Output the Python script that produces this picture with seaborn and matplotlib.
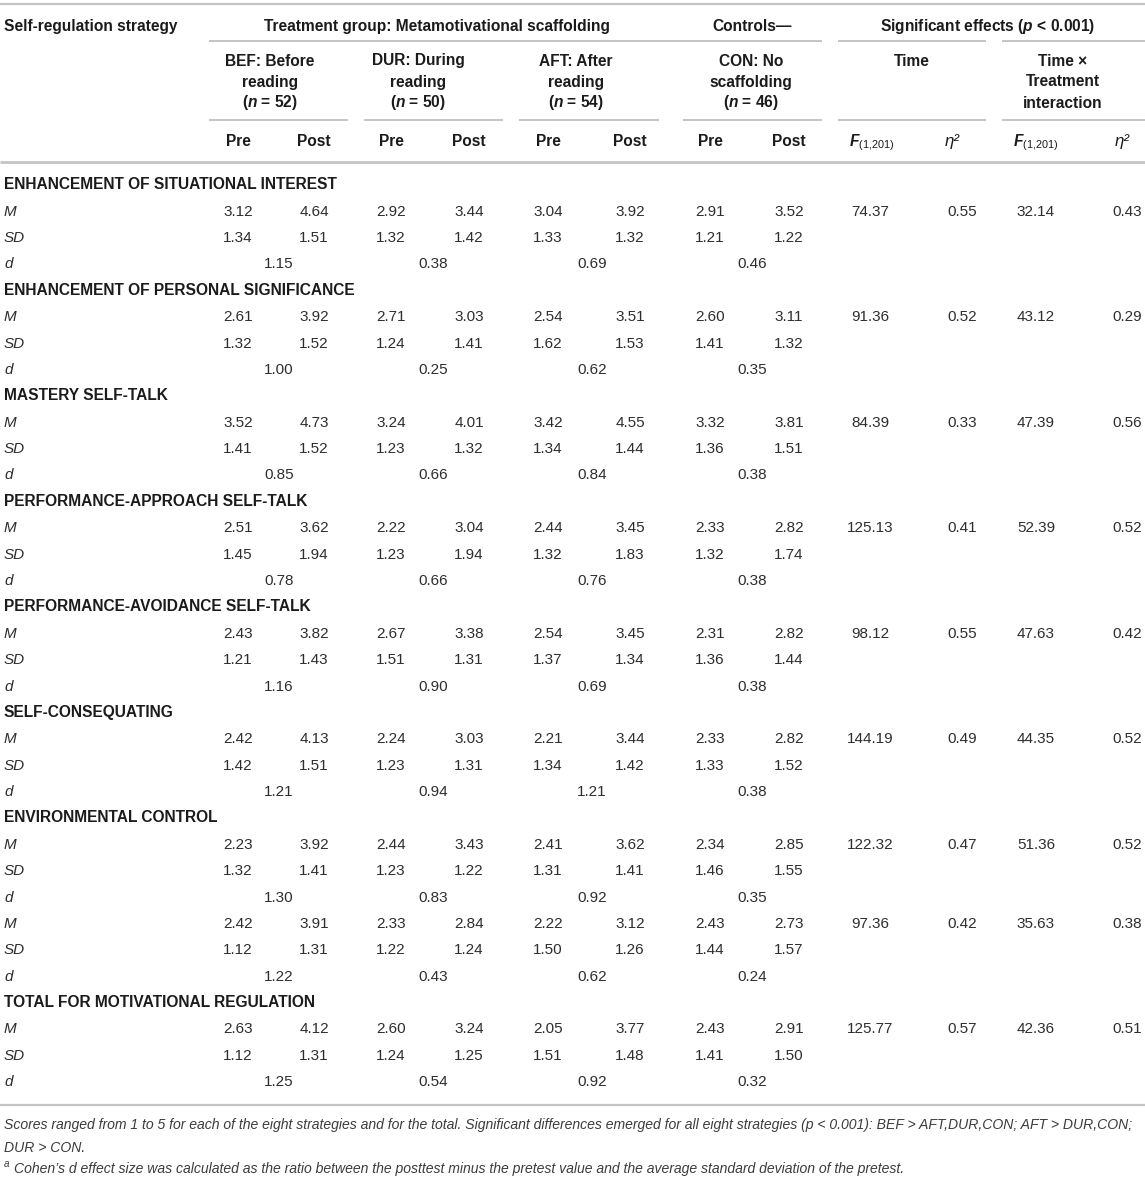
import matplotlib
matplotlib.use("Agg")
import matplotlib.pyplot as plt
import seaborn as sns

# ---------------- data ----------------
strategies = [
    "ENHANCEMENT OF SITUATIONAL INTEREST",
    "ENHANCEMENT OF PERSONAL SIGNIFICANCE",
    "MASTERY SELF-TALK",
    "PERFORMANCE-APPROACH SELF-TALK",
    "PERFORMANCE-AVOIDANCE SELF-TALK",
    "SELF-CONSEQUATING",
    "ENVIRONMENTAL CONTROL",
    "",
    "TOTAL FOR MOTIVATIONAL REGULATION",
]
# order: BEF pre, BEF post, DUR pre, DUR post, AFT pre, AFT post, CON pre, CON post
M_vals = [
    [3.12, 4.64, 2.92, 3.44, 3.04, 3.92, 2.91, 3.52],
    [2.61, 3.92, 2.71, 3.03, 2.54, 3.51, 2.60, 3.11],
    [3.52, 4.73, 3.24, 4.01, 3.42, 4.55, 3.32, 3.81],
    [2.51, 3.62, 2.22, 3.04, 2.44, 3.45, 2.33, 2.82],
    [2.43, 3.82, 2.67, 3.38, 2.54, 3.45, 2.31, 2.82],
    [2.42, 4.13, 2.24, 3.03, 2.21, 3.44, 2.33, 2.82],
    [2.23, 3.92, 2.44, 3.43, 2.41, 3.62, 2.34, 2.85],
    [2.42, 3.91, 2.33, 2.84, 2.22, 3.12, 2.43, 2.73],
    [2.63, 4.12, 2.60, 3.24, 2.05, 3.77, 2.43, 2.91],
]
SD_vals = [
    [1.34, 1.51, 1.32, 1.42, 1.33, 1.32, 1.21, 1.22],
    [1.32, 1.52, 1.24, 1.41, 1.62, 1.53, 1.41, 1.32],
    [1.41, 1.52, 1.23, 1.32, 1.34, 1.44, 1.36, 1.51],
    [1.45, 1.94, 1.23, 1.94, 1.32, 1.83, 1.32, 1.74],
    [1.21, 1.43, 1.51, 1.31, 1.37, 1.34, 1.36, 1.44],
    [1.42, 1.51, 1.23, 1.31, 1.34, 1.42, 1.33, 1.52],
    [1.32, 1.41, 1.23, 1.22, 1.31, 1.41, 1.46, 1.55],
    [1.12, 1.31, 1.22, 1.24, 1.50, 1.26, 1.44, 1.57],
    [1.12, 1.31, 1.24, 1.25, 1.51, 1.48, 1.41, 1.50],
]
d_vals = [
    [1.15, 0.38, 0.69, 0.46],
    [1.00, 0.25, 0.62, 0.35],
    [0.85, 0.66, 0.84, 0.38],
    [0.78, 0.66, 0.76, 0.38],
    [1.16, 0.90, 0.69, 0.38],
    [1.21, 0.94, 1.21, 0.38],
    [1.30, 0.83, 0.92, 0.35],
    [1.22, 0.43, 0.62, 0.24],
    [1.25, 0.54, 0.92, 0.32],
]
F_time = [74.37, 91.36, 84.39, 125.13, 98.12, 144.19, 122.32, 97.36, 125.77]
eta_time = [0.55, 0.52, 0.33, 0.41, 0.55, 0.49, 0.47, 0.42, 0.57]
F_int = [32.14, 43.12, 47.39, 52.39, 47.63, 44.35, 51.36, 35.63, 42.36]
eta_int = [0.43, 0.29, 0.56, 0.52, 0.42, 0.52, 0.52, 0.38, 0.51]

group_headers = [
    ["BEF: Before", "reading", r"($\mathit{n}$ = 52)"],
    ["DUR: During", "reading", r"($\mathit{n}$ = 50)"],
    ["AFT: After", "reading", r"($\mathit{n}$ = 54)"],
    ["CON: No", "scaffolding", r"($\mathit{n}$ = 46)"],
]
effect_headers = [["Time"], ["Time \u00d7", "Treatment", "interaction"]]
top_headers = ["Self-regulation strategy",
               "Treatment group: Metamotivational scaffolding",
               "Controls\u2014",
               r"Significant effects ($\mathit{p}$ < 0.001)"]
sub_headers = ["Pre", "Post"]
stat_headers = [r"$\mathit{F}_{\mathrm{(1{,}201)}}$", "\u03b7\u00b2",
                r"$\mathit{F}_{\mathrm{(1{,}201)}}$", "\u03b7\u00b2"]
row_labels = ["M", "SD", "d"]
footnote_lines = [
    "Scores ranged from 1 to 5 for each of the eight strategies and for the total. "
    "Significant differences emerged for all eight strategies (p < 0.001): "
    "BEF > AFT,DUR,CON; AFT > DUR,CON;",
    "DUR > CON.",
    "Cohen\u2019s d effect size was calculated as the ratio between the posttest "
    "minus the pretest value and the average standard deviation of the pretest.",
]

# ---------------- style ----------------
sns.set_theme(style="white")
FONT = "Liberation Sans"
plt.rcParams["font.family"] = [FONT, "DejaVu Sans"]
plt.rcParams["mathtext.fontset"] = "custom"
plt.rcParams["mathtext.it"] = FONT + ":italic:bold"
plt.rcParams["mathtext.rm"] = FONT
plt.rcParams["mathtext.bf"] = FONT + ":bold"

HEAD_C = "#1b1b1b"
DATA_C = "#2e2e2e"
NOTE_C = "#3c3c3c"
LINE_C = "#c4c4c4"
HS = 11.2   # header font size
DS = 11.0   # data font size

W, H = 1145, 1180
fig = plt.figure(figsize=(W / 100, H / 100), dpi=100)
ax = fig.add_axes([0, 0, 1, 1])
ax.set_xlim(0, W)
ax.set_ylim(H, 0)
ax.axis("off")

# column layout
val_x = [238, 314, 391, 469, 548, 630, 710, 789]
d_x = [279, 433, 592, 752]
eff_x = [870, 962, 1036, 1127]
eff_head_x = [872, 952, 1036, 1122]
grp_x = [270, 418, 576, 751]
effgrp_x = [912, 1063]
top_x = [437, 752, 988]
LEFT = 4

# ---------------- rules ----------------
ax.hlines(4, 0, W, color=LINE_C, lw=1.6)
x0s = [209, 838, 1002]
x1s = [822, 986, W]
ax.hlines([41] * len(x0s), x0s, x1s, color=LINE_C, lw=1.4)
x0s = [209, 364, 519, 683, 838, 1002]
x1s = [348, 503, 659, 822, 986, W]
ax.hlines([120] * len(x0s), x0s, x1s, color=LINE_C, lw=1.4)
ax.hlines(162, 0, W, color=LINE_C, lw=2.0)
ax.hlines(1105, 0, W, color=LINE_C, lw=1.6)

# ---------------- header ----------------
hb = dict(fontsize=HS, fontweight="bold", color=HEAD_C, va="baseline")
ax.text(LEFT, 31, top_headers[0], ha="left", **hb)
for x, t in zip(top_x, top_headers[1:]):
    ax.text(x, 31, t, ha="center", **hb)

sub_base = [65.5, 86.5, 107.5]
for x, lines in zip(grp_x, group_headers):
    for yb, t in zip(sub_base, lines):
        ax.text(x, yb, t, ha="center", **hb)
for x, lines in zip(effgrp_x, effect_headers):
    for yb, t in zip(sub_base, lines):
        ax.text(x, yb, t, ha="center", **hb)

for i, x in enumerate(val_x):
    ax.text(x, 146, sub_headers[i % 2], ha="center", **hb)
for x, t in zip(eff_head_x, stat_headers):
    if t.startswith("$"):
        ax.text(x, 146, t, ha="center", **hb)
    else:
        ax.text(x, 146, t, ha="center", fontsize=HS + 1.0, style="italic",
                color=HEAD_C, va="baseline")

# ---------------- body ----------------
Y0, DY, OFF = 184.0, 26.38, 5.3
row = 0
dd = dict(fontsize=DS, color=DATA_C, va="baseline")
for k, name in enumerate(strategies):
    if name:
        ax.text(LEFT, Y0 + row * DY + OFF, name, ha="left", **hb)
        row += 1
    # M row
    yb = Y0 + row * DY + OFF
    ax.text(LEFT, yb, row_labels[0], ha="left", style="italic", **dd)
    for x, v in zip(val_x, M_vals[k]):
        ax.text(x, yb, f"{v:.2f}", ha="center", **dd)
    for x, v in zip(eff_x, [F_time[k], eta_time[k], F_int[k], eta_int[k]]):
        ax.text(x, yb, f"{v:.2f}", ha="center", **dd)
    row += 1
    # SD row
    yb = Y0 + row * DY + OFF
    ax.text(LEFT, yb, row_labels[1], ha="left", style="italic", **dd)
    for x, v in zip(val_x, SD_vals[k]):
        ax.text(x, yb, f"{v:.2f}", ha="center", **dd)
    row += 1
    # d row
    yb = Y0 + row * DY + OFF
    ax.text(LEFT, yb, row_labels[2], ha="left", style="italic", **dd)
    for x, v in zip(d_x, d_vals[k]):
        ax.text(x, yb, f"{v:.2f}", ha="center", **dd)
    row += 1

# ---------------- footnote ----------------
nb = dict(color=NOTE_C, va="baseline", ha="left", style="italic")
fs = 9.5
t1 = ax.text(LEFT, 1129.5, footnote_lines[0], fontsize=fs, **nb)
r = fig.canvas.get_renderer()
for _ in range(3):
    fig.canvas.draw()
    wpx = t1.get_window_extent(r).width
    fs = fs * (1140 - LEFT) / wpx
    t1.set_fontsize(fs)
ax.text(LEFT, 1151.5, footnote_lines[1], fontsize=fs, **nb)
ax.text(LEFT, 1167.0, "a", fontsize=fs * 0.7, **nb)
ax.text(LEFT + 10, 1172.5, footnote_lines[2], fontsize=fs, **nb)

fig.savefig("out.png", dpi=100)
